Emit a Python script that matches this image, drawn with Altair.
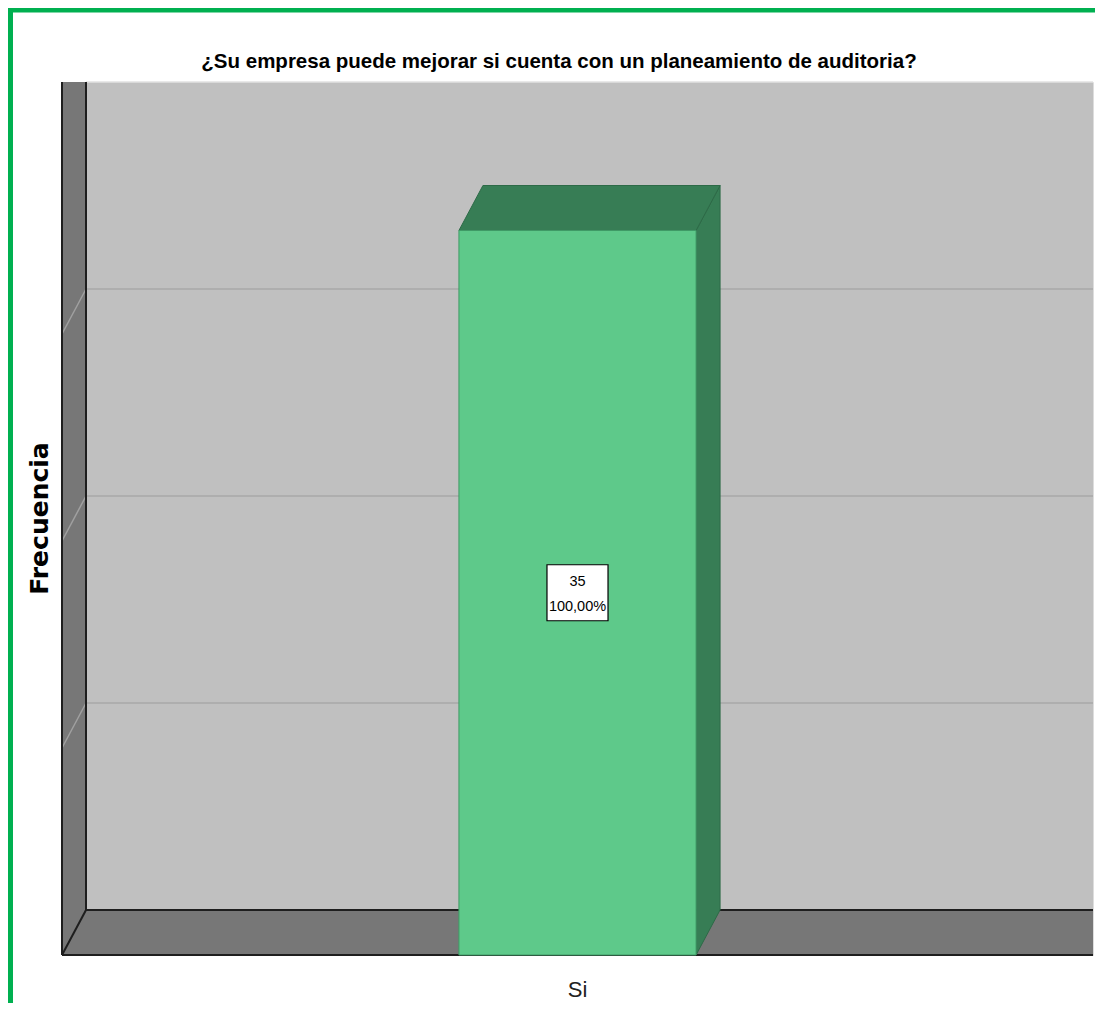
import altair as alt
import pandas as pd

# ---------------- data ----------------
categories = ["Si"]
frequencies = [35]
percentages = ["100,00%"]
grid_values = [10, 20, 30]
axis_max = 40
chart_title = "¿Su empresa puede mejorar si cuenta con un planeamiento de auditoria?"
y_title = "Frecuencia"

# ---------------- 3-D styling (in scale units) ----------------
PLOT_W, PLOT_H = 1031, 873
PAD = {"left": 54, "top": 74, "right": 2, "bottom": 48}
DEPTH_X = 24 / PLOT_W          # depth offset along x (fraction of the x range)
DEPTH_Y = 2.174                # depth offset along y (value units)
BAR_W = 0.23                   # bar width as a fraction of the category band
Y_TOP = axis_max + DEPTH_Y

WALL = "#c0c0c0"
SIDE = "#777777"
FRONT = "#5ec98a"
DARK = "#377d55"
EDGE = "#1e1e1e"
GREEN = "#00b050"
SANS = "Liberation Sans, Arial, sans-serif"

xs = alt.Scale(domain=[0, 1], nice=False, zero=False)
ys = alt.Scale(domain=[0, Y_TOP], nice=False, zero=False)


def X(f):
    return alt.X(f, type="quantitative", scale=xs, axis=None)


def Y(f):
    return alt.Y(f, type="quantitative", scale=ys, axis=None)


n = len(categories)
bars = pd.DataFrame({
    "cat": categories,
    "val": frequencies,
    "pct": percentages,
})
bars["c"] = [(i + 0.5) / n for i in range(n)]
bars["l"] = bars["c"] - BAR_W / 2
bars["r"] = bars["c"] + BAR_W / 2
bars["mid"] = bars["val"] / 2
bars["lab"] = bars["val"].astype(str) + "\n" + bars["pct"]

right_rows = []
top_rows = []
for rec in bars.to_dict("records"):
    right_rows.append({"cat": rec["cat"], "x": rec["r"], "top": rec["val"], "bot": 0})
    right_rows.append({"cat": rec["cat"], "x": rec["r"] + DEPTH_X,
                       "top": rec["val"] + DEPTH_Y, "bot": DEPTH_Y})
    top_rows.append({"cat": rec["cat"], "y": rec["val"], "xl": rec["l"], "xr": rec["r"]})
    top_rows.append({"cat": rec["cat"], "y": rec["val"] + DEPTH_Y,
                     "xl": rec["l"] + DEPTH_X, "xr": rec["r"] + DEPTH_X})
right_df = pd.DataFrame(right_rows)
top_df = pd.DataFrame(top_rows)

# walls
back_df = pd.DataFrame({"x": [DEPTH_X], "x2": [1.0], "y": [DEPTH_Y], "y2": [Y_TOP]})
left_df = pd.DataFrame({"x": [0.0, DEPTH_X], "top": [Y_TOP, Y_TOP], "bot": [0.0, DEPTH_Y]})
floor_df = pd.DataFrame({"y": [0.0, DEPTH_Y], "xl": [0.0, DEPTH_X], "xr": [1.0, 1.0]})

grid_back = pd.DataFrame({"y": [v + DEPTH_Y for v in grid_values]})
grid_back["x"] = DEPTH_X
grid_back["x2"] = 1.0
grid_side = pd.DataFrame({"y": grid_values, "y2": [v + DEPTH_Y for v in grid_values]})
grid_side["x"] = 0.0
grid_side["x2"] = DEPTH_X

edges = pd.DataFrame([
    {"x": 0.0, "x2": 0.0, "y": 0.0, "y2": Y_TOP},
    {"x": DEPTH_X, "x2": DEPTH_X, "y": DEPTH_Y, "y2": Y_TOP},
    {"x": DEPTH_X, "x2": 1.0, "y": DEPTH_Y, "y2": DEPTH_Y},
    {"x": 0.0, "x2": 1.0, "y": 0.0, "y2": 0.0},
    {"x": 0.0, "x2": DEPTH_X, "y": 0.0, "y2": DEPTH_Y},
])

# ---------------- layers ----------------
back = alt.Chart(back_df).mark_rect(fill=WALL).encode(x=X("x"), x2="x2", y=Y("y"), y2="y2")
top_line = alt.Chart(back_df).mark_rule(color="#e2e2e2", strokeWidth=1.5).encode(
    x=X("x"), x2="x2", y=Y("y2"))
gb = alt.Chart(grid_back).mark_rule(color="#a9a9a9", strokeWidth=1.5).encode(
    x=X("x"), x2="x2", y=Y("y"))
left = alt.Chart(left_df).mark_area(fill=SIDE, orient="vertical").encode(
    x=X("x"), y=Y("top"), y2="bot")
gs = alt.Chart(grid_side).mark_rule(color="#a0a0a0", strokeWidth=1.5).encode(
    x=X("x"), x2="x2", y=Y("y"), y2="y2")
floor = alt.Chart(floor_df).mark_area(fill=SIDE, orient="horizontal").encode(
    y=Y("y"), x=X("xl"), x2="xr")
edge = alt.Chart(edges).mark_rule(color=EDGE, strokeWidth=2).encode(
    x=X("x"), x2="x2", y=Y("y"), y2="y2")

rface = alt.Chart(right_df).mark_area(fill=DARK, orient="vertical", stroke="#2d6a47",
                                      strokeWidth=1).encode(
    x=X("x"), y=Y("top"), y2="bot", detail="cat:N")
tface = alt.Chart(top_df).mark_area(fill=DARK, orient="horizontal", stroke="#2d6a47",
                                    strokeWidth=1).encode(
    y=Y("y"), x=X("xl"), x2="xr", detail="cat:N")
front = alt.Chart(bars).mark_rect(fill=FRONT, stroke="#3f9a66", strokeWidth=1).encode(
    x=X("l"), x2="r", y=Y("val"), y2=alt.Y2(datum=0))

box = alt.Chart(bars).mark_point(
    shape="M-1.09,-1H1.09V1H-1.09Z", filled=True, fill="white", stroke="black",
    strokeWidth=1.2, opacity=1, size=3136).encode(x=X("c"), y=Y("mid"))
box_text = alt.Chart(bars).mark_text(
    font=SANS, fontSize=14.5, lineBreak="\n", lineHeight=25, color="black",
    baseline="middle", align="center", dy=-11).encode(x=X("c"), y=Y("mid"), text="lab:N")

cat_text = alt.Chart(bars).mark_text(
    font=SANS, fontSize=22, color="#222222", baseline="middle", align="center").encode(
    x=X("c"), y=alt.value(PLOT_H + 35), text="cat:N")

ytitle = alt.Chart(pd.DataFrame({"t": [y_title]})).mark_text(
    font="DejaVu Sans", fontWeight="bold", fontSize=25, angle=270, color="black",
    baseline="middle", align="center").encode(
    x=alt.value(-22), y=alt.value(PLOT_H / 2), text="t:N")

title = alt.Chart(pd.DataFrame({"t": [chart_title]})).mark_text(
    font=SANS, fontWeight="bold", fontSize=20.5, color="black",
    baseline="alphabetic", align="center").encode(
    x=alt.value(497), y=alt.value(-14), text="t:N")

frame = pd.DataFrame({"k": [0]})
gtop = alt.Chart(frame).mark_rule(color=GREEN, strokeWidth=5).encode(
    x=alt.value(-PAD["left"]), x2=alt.value(PLOT_W + PAD["right"]), y=alt.value(-72))
gleft = alt.Chart(frame).mark_rule(color=GREEN, strokeWidth=5).encode(
    x=alt.value(-PAD["left"] + 2.5), y=alt.value(-74), y2=alt.value(PLOT_H + PAD["bottom"]))

chart = alt.layer(
    back, top_line, gb, left, gs, floor, edge, rface, tface, front, box, box_text,
    cat_text, ytitle, title, gtop, gleft,
).properties(
    width=PLOT_W,
    height=PLOT_H,
    autosize=alt.AutoSizeParams(type="none"),
    padding=PAD,
).configure_view(strokeWidth=0).configure(background="white")

chart.save("out.html", embed_options={"renderer": "svg", "actions": False})
